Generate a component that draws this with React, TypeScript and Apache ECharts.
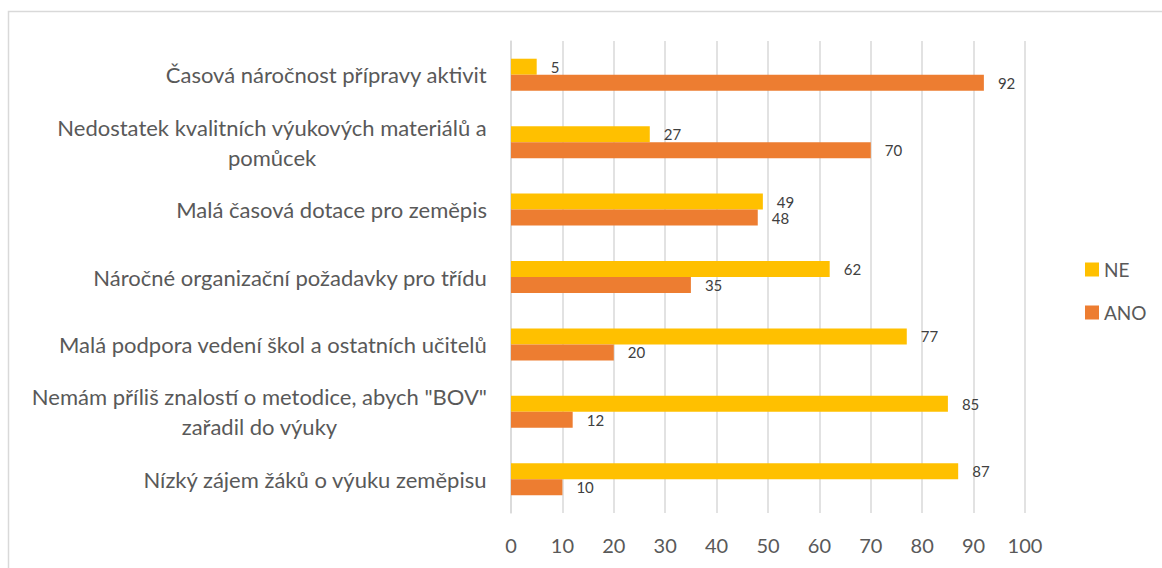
import React, { useEffect, useRef } from "react";
import * as echarts from "echarts";

const categories = [
  "Časová náročnost přípravy aktivit",
  "Nedostatek kvalitních výukových materiálů a\npomůcek",
  "Malá časová dotace pro zeměpis",
  "Náročné organizační požadavky pro třídu",
  "Malá podpora vedení škol a ostatních učitelů",
  "Nemám příliš znalostí o metodice, abych \"BOV\"\nzařadil do výuky",
  "Nízký zájem žáků o výuku zeměpisu",
];
const neValues = [5, 27, 49, 62, 77, 85, 87];
const anoValues = [92, 70, 48, 35, 20, 12, 10];
const xTicks = { min: 0, max: 100, interval: 10 };

const FONT = "Lato, sans-serif";

export default function App() {
  const ref = useRef<HTMLDivElement>(null);
  useEffect(() => {
    if (!ref.current) return;
    const chart = echarts.init(ref.current, null, { renderer: "svg" });
    const labelStyle = {
      show: true,
      position: "right",
      distance: 14,
      color: "#404040",
      fontSize: 15,
      fontFamily: FONT,
    };
    chart.setOption({
      animation: false,
      backgroundColor: "#ffffff",
      graphic: [
        {
          type: "rect",
          shape: { x: 8.5, y: 11.5, width: 1200, height: 600 },
          style: { fill: "none", stroke: "#d9d9d9", lineWidth: 1.5 },
          silent: true,
        },
      ],
      grid: { left: 511, right: 137, top: 41, bottom: 55, containLabel: false },
      legend: {
        orient: "vertical",
        left: 1085,
        top: 260,
        padding: 0,
        itemWidth: 14,
        itemHeight: 14,
        itemGap: 24,
        icon: "rect",
        data: ["NE", "ANO"],
        textStyle: { color: "#595959", fontSize: 19, fontFamily: FONT },
      },
      xAxis: {
        type: "value",
        min: xTicks.min,
        max: xTicks.max,
        interval: xTicks.interval,
        axisLine: { show: false },
        axisTick: { show: false },
        splitLine: { show: true, lineStyle: { color: "#d9d9d9", width: 1.5 } },
        axisLabel: { color: "#595959", fontSize: 20, fontFamily: FONT, margin: 22 },
      },
      yAxis: {
        type: "category",
        inverse: true,
        data: categories,
        axisLine: { show: true, lineStyle: { color: "#d9d9d9", width: 1.5 } },
        axisTick: { show: false },
        axisLabel: {
          margin: 24,
          color: "#595959",
          fontSize: 22,
          fontFamily: FONT,
          lineHeight: 30,
          formatter: (v: string) =>
            v
              .split("\n")
              .map((l) => `{c|${l}}`)
              .join("\n"),
          rich: {
            c: {
              align: "center",
              color: "#595959",
              fontSize: 22,
              fontFamily: FONT,
              lineHeight: 30,
            },
          },
        },
      },
      series: [
        {
          name: "NE",
          type: "bar",
          data: neValues,
          barWidth: 16,
          barGap: "0%",
          itemStyle: { color: "#FFC000" },
          label: labelStyle,
        },
        {
          name: "ANO",
          type: "bar",
          data: anoValues,
          barWidth: 16,
          barGap: "0%",
          itemStyle: { color: "#ED7D31" },
          label: labelStyle,
        },
      ],
    });
    return () => chart.dispose();
  }, []);
  return (
    <div
      ref={ref}
      style={{ position: "fixed", left: 0, top: 0, width: 1162, height: 568 }}
    />
  );
}
